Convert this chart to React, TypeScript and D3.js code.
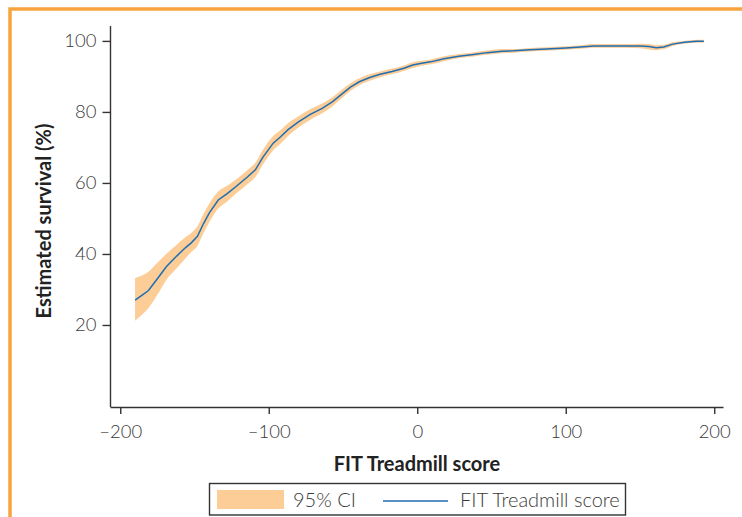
import React, { useEffect, useRef } from 'react';
import * as d3 from 'd3';

// FIT treadmill score vs estimated survival, with 95% CI band
const score = [-190, -185, -181, -175, -169, -162, -156, -152, -148, -144, -140, -134, -128, -122, -114, -109, -104, -97, -92, -87, -80, -72, -64, -57, -50, -45, -39, -32, -25, -17, -9, -3, 3, 9, 18, 28, 38, 47, 57, 65, 76, 87, 100, 110, 119, 130, 140, 150, 156, 161, 166, 172, 180, 188, 193];
const survival = [27, 28.5, 29.7, 33, 36.4, 39.4, 41.8, 43.2, 45, 48.5, 51.6, 55.2, 57, 59, 61.8, 63.7, 67.2, 71.2, 73, 75, 77.2, 79.3, 81, 82.9, 85.3, 87, 88.5, 89.7, 90.6, 91.4, 92.3, 93.2, 93.7, 94.1, 95, 95.7, 96.2, 96.7, 97.1, 97.2, 97.5, 97.7, 98, 98.3, 98.6, 98.6, 98.6, 98.6, 98.4, 98.1, 98.3, 99.1, 99.6, 99.9, 99.9];
const lower = [21.2, 23, 24.8, 28.5, 32.7, 36, 38.8, 40.6, 42.3, 45.8, 49, 52.8, 54.8, 57, 59.8, 61.7, 65.1, 69.2, 71.1, 73.2, 75.6, 77.8, 79.6, 81.6, 84.1, 85.9, 87.5, 88.8, 89.8, 90.6, 91.5, 92.4, 93, 93.4, 94.3, 95.1, 95.6, 96.1, 96.5, 96.7, 97, 97.2, 97.5, 97.8, 98.1, 98.1, 98.1, 97.9, 97.6, 97.4, 97.7, 98.6, 99.2, 99.5, 99.5];
const upper = [33.2, 34, 35, 37.5, 40, 42.6, 44.8, 46, 47.8, 51.2, 54.2, 57.6, 59.2, 61, 63.8, 65.7, 69.3, 73.2, 74.9, 76.8, 78.8, 80.8, 82.4, 84.2, 86.5, 88.1, 89.5, 90.6, 91.4, 92.2, 93.1, 94, 94.4, 94.8, 95.7, 96.3, 96.8, 97.3, 97.7, 97.7, 98, 98.2, 98.5, 98.8, 99.1, 99.1, 99.1, 99.2, 99.1, 98.8, 98.9, 99.6, 100, 100.3, 100.3];

const xTicks = [-200, -100, 0, 100, 200];
const yTicks = [20, 40, 60, 80, 100];
const legendLabels = ['95% CI', 'FIT Treadmill score'];

const FONT = 'Lato, "Open Sans", sans-serif';
const AXIS = '#333';

function SurvivalChart() {
  const svgRef = useRef<SVGSVGElement>(null);

  useEffect(() => {
    if (!svgRef.current) return;
    const svg = d3.select(svgRef.current);
    svg.selectAll('*').remove();

    const x = d3.scaleLinear().domain([-206.9, 205.9]).range([110, 723]);
    const y = d3.scaleLinear().domain([-3.1, 104.2]).range([407, 26]);

    // orange frame (clipped on right and bottom)
    svg.append('path')
      .attr('d', 'M10,517 V9 H742')
      .attr('fill', 'none')
      .attr('stroke', '#f7a43e')
      .attr('stroke-width', 3.5);

    const idx = d3.range(score.length);

    // confidence band
    const area = d3.area<number>()
      .x(i => x(score[i]))
      .y0(i => y(lower[i]))
      .y1(i => y(upper[i]))
      .curve(d3.curveMonotoneX);
    svg.append('path')
      .datum(idx)
      .attr('fill', '#fccd96')
      .attr('d', area);

    // estimate line
    const line = d3.line<number>()
      .x(i => x(score[i]))
      .y(i => y(survival[i]))
      .curve(d3.curveLinear);
    svg.append('path')
      .datum(idx)
      .attr('fill', 'none')
      .attr('stroke', '#1f6db3')
      .attr('stroke-width', 1.5)
      .attr('d', line);

    // axes
    const fmt = (d: d3.NumberValue) => {
      const v = +d;
      return v < 0 ? '\u2013' + Math.abs(v) : String(v);
    };
    const gx = svg.append('g')
      .attr('transform', 'translate(0,407)')
      .call(d3.axisBottom(x).tickValues(xTicks).tickFormat(fmt).tickSize(7).tickSizeOuter(0).tickPadding(11));
    const gy = svg.append('g')
      .attr('transform', 'translate(110.5,0)')
      .call(d3.axisLeft(y).tickValues(yTicks).tickSize(8).tickSizeOuter(0).tickPadding(6));

    [gx, gy].forEach(g => {
      g.select('.domain').attr('stroke', AXIS).attr('stroke-width', 1.4);
      g.selectAll('.tick line').attr('stroke', AXIS).attr('stroke-width', 1.4);
      g.selectAll('.tick text')
        .attr('fill', '#3a3a3a')
        .attr('font-family', FONT)
        .attr('font-weight', 300)
        .attr('font-size', 18.5);
    });
    gy.select('.domain').attr('d', `M0,${y.range()[1]}V${y.range()[0]}`);

    // axis titles
    svg.append('text')
      .attr('x', 417)
      .attr('y', 471)
      .attr('text-anchor', 'middle')
      .attr('font-family', FONT)
      .attr('font-weight', 700)
      .attr('font-size', 20)
      .attr('fill', '#222')
      .text('FIT Treadmill score');
    svg.append('text')
      .attr('transform', 'translate(51,221) rotate(-90)')
      .attr('text-anchor', 'middle')
      .attr('font-family', FONT)
      .attr('font-weight', 700)
      .attr('font-size', 20)
      .attr('fill', '#222')
      .text('Estimated survival (%)');

    // legend
    const lg = svg.append('g');
    lg.append('rect')
      .attr('x', 209.5).attr('y', 483.5).attr('width', 416).attr('height', 31.5)
      .attr('fill', 'none').attr('stroke', AXIS).attr('stroke-width', 1.4);
    lg.append('rect')
      .attr('x', 217).attr('y', 490).attr('width', 67).attr('height', 19)
      .attr('fill', '#fccd96');
    lg.append('text')
      .attr('x', 293).attr('y', 507)
      .attr('font-family', FONT).attr('font-weight', 300).attr('font-size', 20)
      .attr('fill', '#3a3a3a')
      .text(legendLabels[0]);
    lg.append('line')
      .attr('x1', 383).attr('x2', 448).attr('y1', 501).attr('y2', 501)
      .attr('stroke', '#1f6db3').attr('stroke-width', 1.5);
    lg.append('text')
      .attr('x', 460).attr('y', 507)
      .attr('font-family', FONT).attr('font-weight', 300).attr('font-size', 20)
      .attr('fill', '#3a3a3a')
      .text(legendLabels[1]);
  }, []);

  return (
    <svg
      ref={svgRef}
      width={742}
      height={517}
      style={{ position: 'absolute', left: 0, top: 0, background: '#fff' }}
    />
  );
}

export default function App() {
  return <SurvivalChart />;
}
